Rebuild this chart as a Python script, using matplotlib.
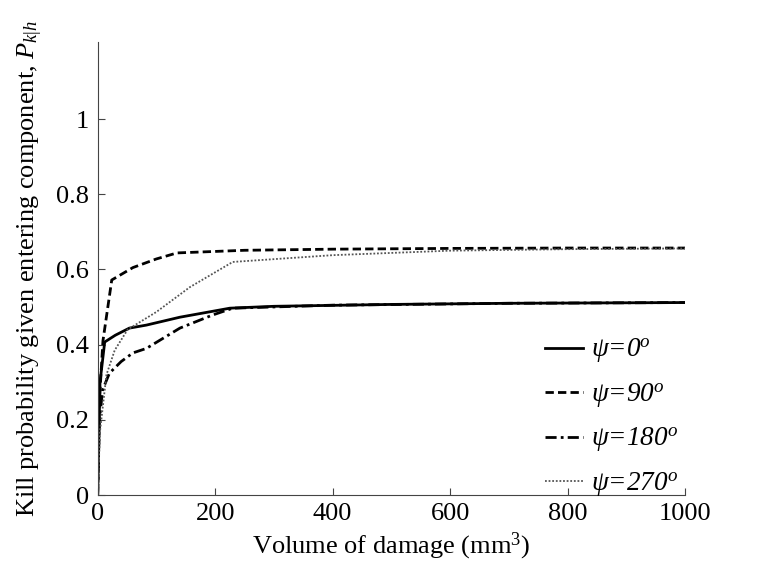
import matplotlib
matplotlib.use('Agg')
import matplotlib.pyplot as plt
import numpy as np

font = {'family': 'Liberation Serif', 'weight': 'normal', 'size': 19}
matplotlib.rc('font', **font)
matplotlib.rc('mathtext', fontset='custom', rm='Liberation Serif',
              it='Liberation Serif:italic', bf='Liberation Serif:bold')

# volume of damage (mm^3) and kill probability for each entry angle
x_0 = [0, 4, 12, 30, 54, 83, 140, 225, 300, 500, 700, 1000]
p_0 = [0, 0.30, 0.407, 0.425, 0.444, 0.452, 0.473, 0.497, 0.502, 0.507, 0.510, 0.512]

x_90 = [0, 3, 9, 24, 60, 100, 135, 250, 400, 600, 800, 1000]
p_90 = [0, 0.25, 0.41, 0.572, 0.605, 0.628, 0.644, 0.651, 0.654, 0.656, 0.657, 0.657]

x_180 = [0, 3, 8.5, 20, 40, 60, 83, 140, 196, 230, 400, 700, 1000]
p_180 = [0, 0.20, 0.28, 0.324, 0.355, 0.378, 0.39, 0.444, 0.479, 0.497, 0.505, 0.510, 0.512]

x_270 = [0, 4, 15, 29, 51, 100, 157, 230, 400, 600, 800, 1000]
p_270 = [0, 0.17, 0.32, 0.385, 0.44, 0.487, 0.553, 0.62, 0.638, 0.650, 0.654, 0.656]

labels = ['ψ=0$^o$', 'ψ=90$^o$', 'ψ=180$^o$', 'ψ=270$^o$']

fig = plt.figure(figsize=(7.57, 5.68), dpi=100)
ax = fig.add_axes([0.129, 0.1285, 0.776, 0.7975])

ax.plot(x_0, p_0, color='black', linewidth=2.0, linestyle='-', label=labels[0])
ax.plot(x_90, p_90, color='black', linewidth=2.0, linestyle=(0, (3, 1.5)), label=labels[1])
ax.plot(x_180, p_180, color='black', linewidth=2.0, linestyle=(0, (4, 1.5, 1, 1.5)), label=labels[2])
ax.plot(x_270, p_270, color='#555555', linewidth=1.3, linestyle=(0, (1, 1)), label=labels[3])

ax.set_xlim(0, 1000)
ax.set_ylim(0, 1.205)
ax.set_xticks([0, 200, 400, 600, 800, 1000])
ax.set_yticks([0, 0.2, 0.4, 0.6, 0.8, 1])
ax.set_yticklabels(['0', '0.2', '0.4', '0.6', '0.8', '1'])
ax.tick_params(direction='in', length=5, color='#444444', pad=6)
for s in ['top', 'right']:
    ax.spines[s].set_visible(False)
for s in ['left', 'bottom']:
    ax.spines[s].set_color('#444444')

ax.set_xlabel(r'Volume of damage (mm$^3$)', labelpad=4)
ax.set_ylabel(r'Kill probability given entering component, $P_{k|h}$', labelpad=8)

ax.legend(loc='lower right', bbox_to_anchor=(1.029, -0.062), frameon=False,
          handlelength=1.4, labelspacing=0.6, handletextpad=0.3,
          prop={'family': 'Liberation Serif', 'style': 'italic', 'size': 19.5})

plt.savefig('out.png', dpi=100)
